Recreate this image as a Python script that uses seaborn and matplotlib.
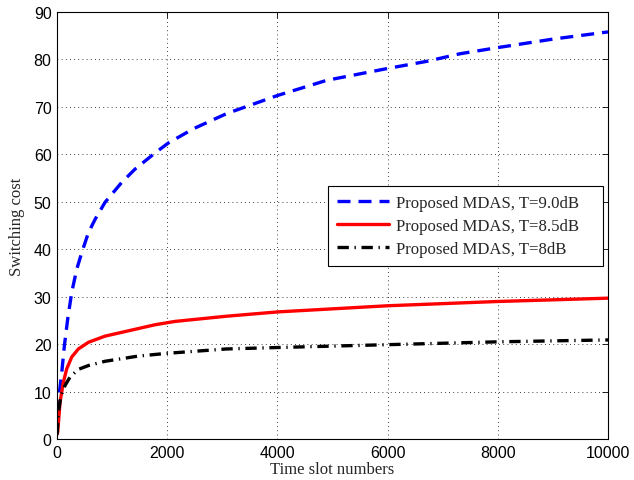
import matplotlib
matplotlib.use("Agg")
import matplotlib.pyplot as plt
import seaborn as sns
import pandas as pd

# Switching cost versus time slot, three thresholds
slots_90 = [0, 12, 36, 85, 133, 193, 266, 357, 448, 569, 690, 871, 1174, 1416,
            1779, 2020, 2475, 3080, 4000, 4894, 6000, 6710, 7314, 8000, 9008, 10000]
cost_90 = [1.0, 4.5, 9.2, 14.0, 19.7, 25.3, 30.9, 35.8, 39.3, 43.5, 46.3, 49.9, 54.1, 56.9,
           60.3, 62.4, 65.4, 68.6, 72.4, 75.6, 78.1, 79.6, 81.2, 82.5, 84.3, 85.8]

slots_85 = [0, 12, 54, 115, 175, 266, 387, 569, 871, 1174, 1779, 2141,
            3080, 4000, 6000, 8000, 10000]
cost_85 = [1.0, 1.5, 7.8, 12.0, 14.8, 17.3, 19.0, 20.4, 21.7, 22.5, 24.1, 24.8,
           25.9, 26.8, 28.1, 29.0, 29.7]

slots_80 = [0, 24, 73, 145, 236, 387, 569, 871, 1476, 2020,
            3080, 4000, 6000, 8000, 10000]
cost_80 = [1.0, 5.7, 9.2, 11.3, 13.1, 14.7, 15.5, 16.4, 17.5, 18.1,
           19.0, 19.3, 19.9, 20.5, 20.9]

labels = ["Proposed MDAS, T=9.0dB", "Proposed MDAS, T=8.5dB", "Proposed MDAS, T=8dB"]
x_ticks = [0, 2000, 4000, 6000, 8000, 10000]
y_ticks = [0, 10, 20, 30, 40, 50, 60, 70, 80, 90]

sns.set_style("white")
plt.rcParams["xtick.direction"] = "in"
plt.rcParams["ytick.direction"] = "in"

fig = plt.figure(figsize=(6.34, 4.81), dpi=100)
ax = fig.add_axes([0.09, 0.085, 0.869, 0.888])

series = [
    (slots_90, cost_90, labels[0], "#0000ff", (3.9, 2.4)),
    (slots_85, cost_85, labels[1], "#ff0000", None),
    (slots_80, cost_80, labels[2], "#000000", (3.4, 1.7, 0.4, 1.7)),
]
for xs, ys, lab, col, dash in series:
    df = pd.DataFrame({"slot": xs, "cost": ys})
    sns.lineplot(data=df, x="slot", y="cost", ax=ax, color=col, linewidth=2.4,
                 label=lab, legend=False)
    if dash is not None:
        ax.lines[-1].set_dashes(dash)

ax.set_xlim(0, 10000)
ax.set_ylim(0, 90)
ax.set_xticks(x_ticks)
ax.set_yticks(y_ticks)
ax.tick_params(axis="both", which="both", top=True, right=True, length=4,
               width=0.6, labelsize=11.5, pad=4, colors="black")
for t in ax.get_xticklabels() + ax.get_yticklabels():
    t.set_fontfamily("Liberation Sans")
for sp in ax.spines.values():
    sp.set_visible(True)
    sp.set_color("black")
    sp.set_linewidth(0.8)
ax.grid(True, color="black", linestyle=(0, (1, 4)), linewidth=0.6)

ax.set_xlabel("Time slot numbers", fontfamily="Liberation Serif", fontsize=12, labelpad=1)
ax.set_ylabel("Switching cost", fontfamily="Liberation Serif", fontsize=12, labelpad=6)

leg = ax.legend(loc="lower left", bbox_to_anchor=(0.492, 0.405, 0.499, 0.183),
                mode="expand",
                prop={"family": "Liberation Serif", "size": 12.1},
                handlelength=3.1, handletextpad=0.4, borderpad=0.55,
                labelspacing=0.42, fancybox=False, framealpha=1,
                edgecolor="black", borderaxespad=0)
leg.get_frame().set_linewidth(0.8)

fig.savefig("out.png", dpi=100)
